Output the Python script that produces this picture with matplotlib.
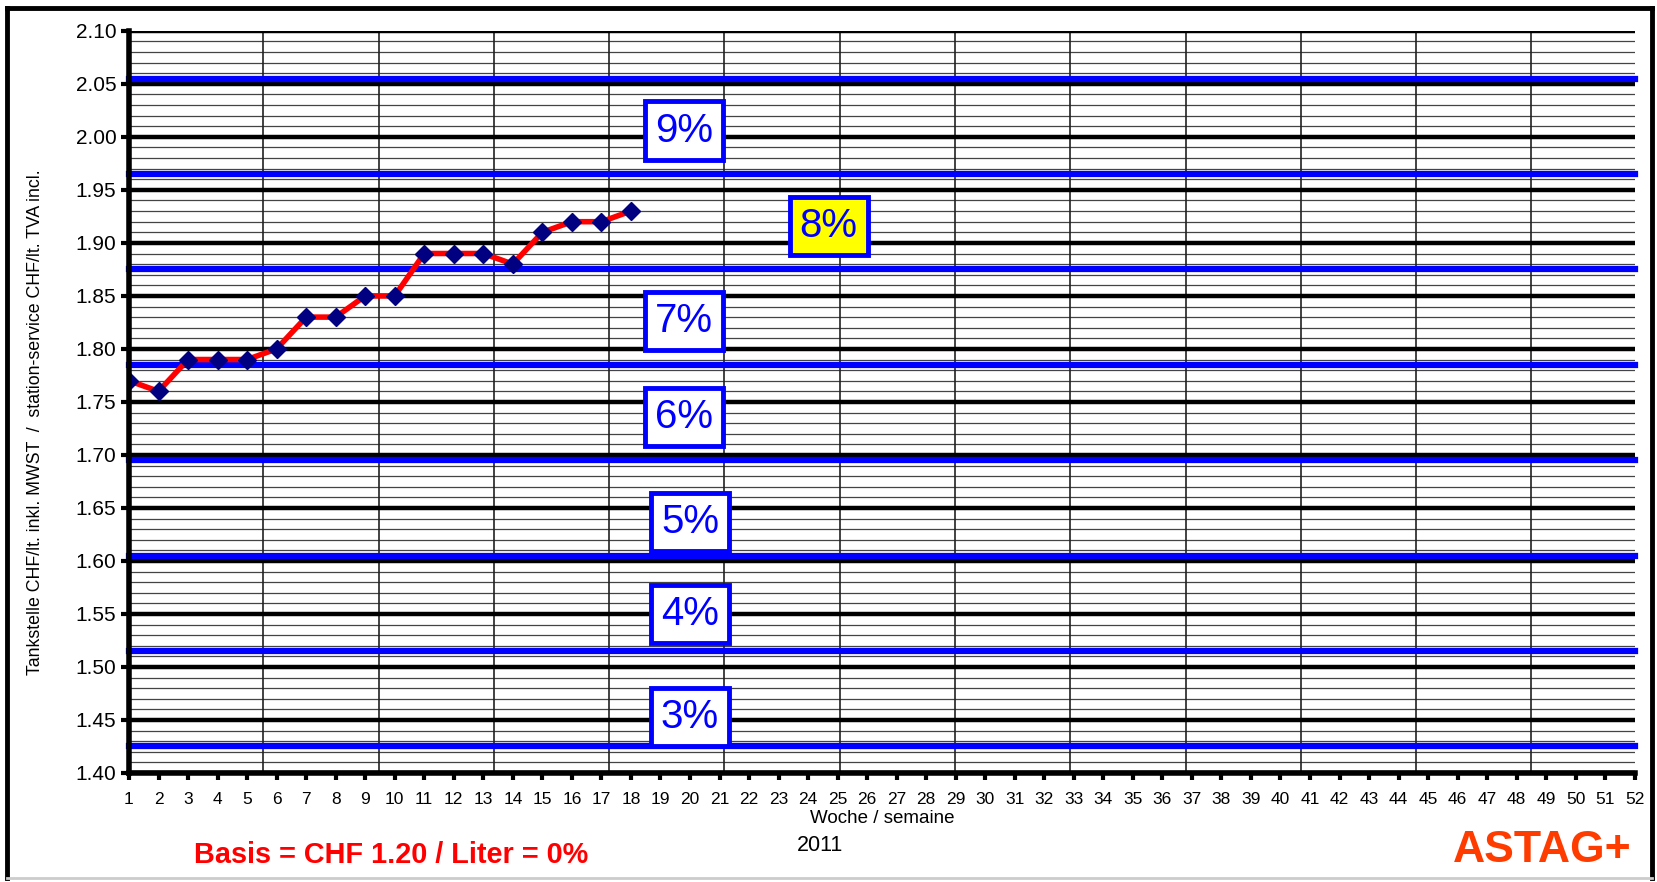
import numpy as np
import matplotlib
matplotlib.use("Agg")
import matplotlib.pyplot as plt
from matplotlib.lines import Line2D

plt.rcParams['font.family'] = ['Liberation Sans', 'DejaVu Sans']

# weekly pump price 2011 (CHF/lt incl. VAT)
weeks = list(range(1, 19))
prices = [1.77, 1.76, 1.79, 1.79, 1.79, 1.80, 1.83, 1.83, 1.85, 1.85,
          1.89, 1.89, 1.89, 1.88, 1.91, 1.92, 1.92, 1.93]

# band borders (blue lines) and band labels
band_lines = [2.055, 1.965, 1.875, 1.785, 1.695, 1.605, 1.515, 1.425]
band_labels = ["9%", "8%", "7%", "6%", "5%", "4%", "3%"]
label_weeks = [19.8, 24.7, 19.8, 19.8, 20.0, 20.0, 20.0]
label_values = [2.006, 1.916, 1.826, 1.736, 1.637, 1.550, 1.453]
highlight = "8%"

week_ticks = list(range(1, 53))
y_ticks = np.arange(1.40, 2.101, 0.05)

fig = plt.figure(figsize=(16.58, 8.82), dpi=100)
ax = fig.add_axes([0.0778, 0.1236, 0.9082, 0.8414])

ax.set_xlim(1, 52)
ax.set_ylim(1.40, 2.10)

# grid: minor every 0.01, major every 0.05
for v in np.arange(1.41, 2.10, 0.01):
    ax.axhline(v, color="#444444", lw=0.9, zorder=1)
for v in y_ticks:
    ax.axhline(v, color="black", lw=3.2, zorder=2)
for xv in np.linspace(5.55, 48.5, 12):
    ax.axvline(xv, color="#222222", lw=1.2, zorder=1)

for v in band_lines:
    ax.axhline(v, color="#0000ff", lw=4.5, zorder=3, clip_on=False)

ax.plot(weeks, prices, color="red", lw=4, zorder=5)
ax.plot(weeks, prices, ls="none", marker="D", ms=9, color="#000080", zorder=6)

for lab, xw, yv in zip(band_labels, label_weeks, label_values):
    fc = "#ffff00" if lab == highlight else "white"
    ax.text(xw, yv, lab, ha="center", va="center", fontsize=29, color="#0000ff",
            zorder=7,
            bbox=dict(boxstyle="square,pad=0.25", fc=fc, ec="#0000ff", lw=3.5))

ax.set_xticks(week_ticks)
ax.set_xticklabels([str(w) for w in week_ticks])
ax.set_yticks(y_ticks)
ax.set_yticklabels(["%.2f" % v for v in y_ticks])
ax.tick_params(axis="x", length=5, width=3, labelsize=12.5, pad=9)
ax.tick_params(axis="y", length=6, width=3, labelsize=15, pad=3)

for s in ["top", "right"]:
    ax.spines[s].set_visible(False)
ax.spines["left"].set_linewidth(4)
ax.spines["bottom"].set_linewidth(4)
ax.spines["left"].set_zorder(8)
ax.spines["bottom"].set_zorder(8)

ax.set_ylabel("Tankstelle CHF/lt. inkl. MWST  /  station-service CHF/lt. TVA incl.",
              fontsize=12.8)
ax.yaxis.set_label_coords(-0.0566, 0.473)
ax.set_xlabel("Woche / semaine", fontsize=13.5, labelpad=2)

fig.text(0.4945, 0.041, "2011", ha="center", va="center", fontsize=15.5)
fig.text(0.236, 0.031, "Basis = CHF 1.20 / Liter = 0%", ha="center", va="center",
         fontsize=20.8, fontweight="bold", color="red")
fig.text(0.930, 0.036, "ASTAG+", ha="center", va="center", fontsize=32,
         fontweight="bold", color="#ff3c00")

# outer frame
fig.add_artist(Line2D([0.0045, 0.0045], [0.004, 0.991], color="black", lw=3.5))
fig.add_artist(Line2D([0.0045, 0.9965], [0.991, 0.991], color="black", lw=3.5))
fig.add_artist(Line2D([0.9965, 0.9965], [0.004, 0.991], color="black", lw=3.5))
fig.add_artist(Line2D([0.0045, 0.9965], [0.004, 0.004], color="#cccccc", lw=2))

fig.savefig("out.png", dpi=100)
